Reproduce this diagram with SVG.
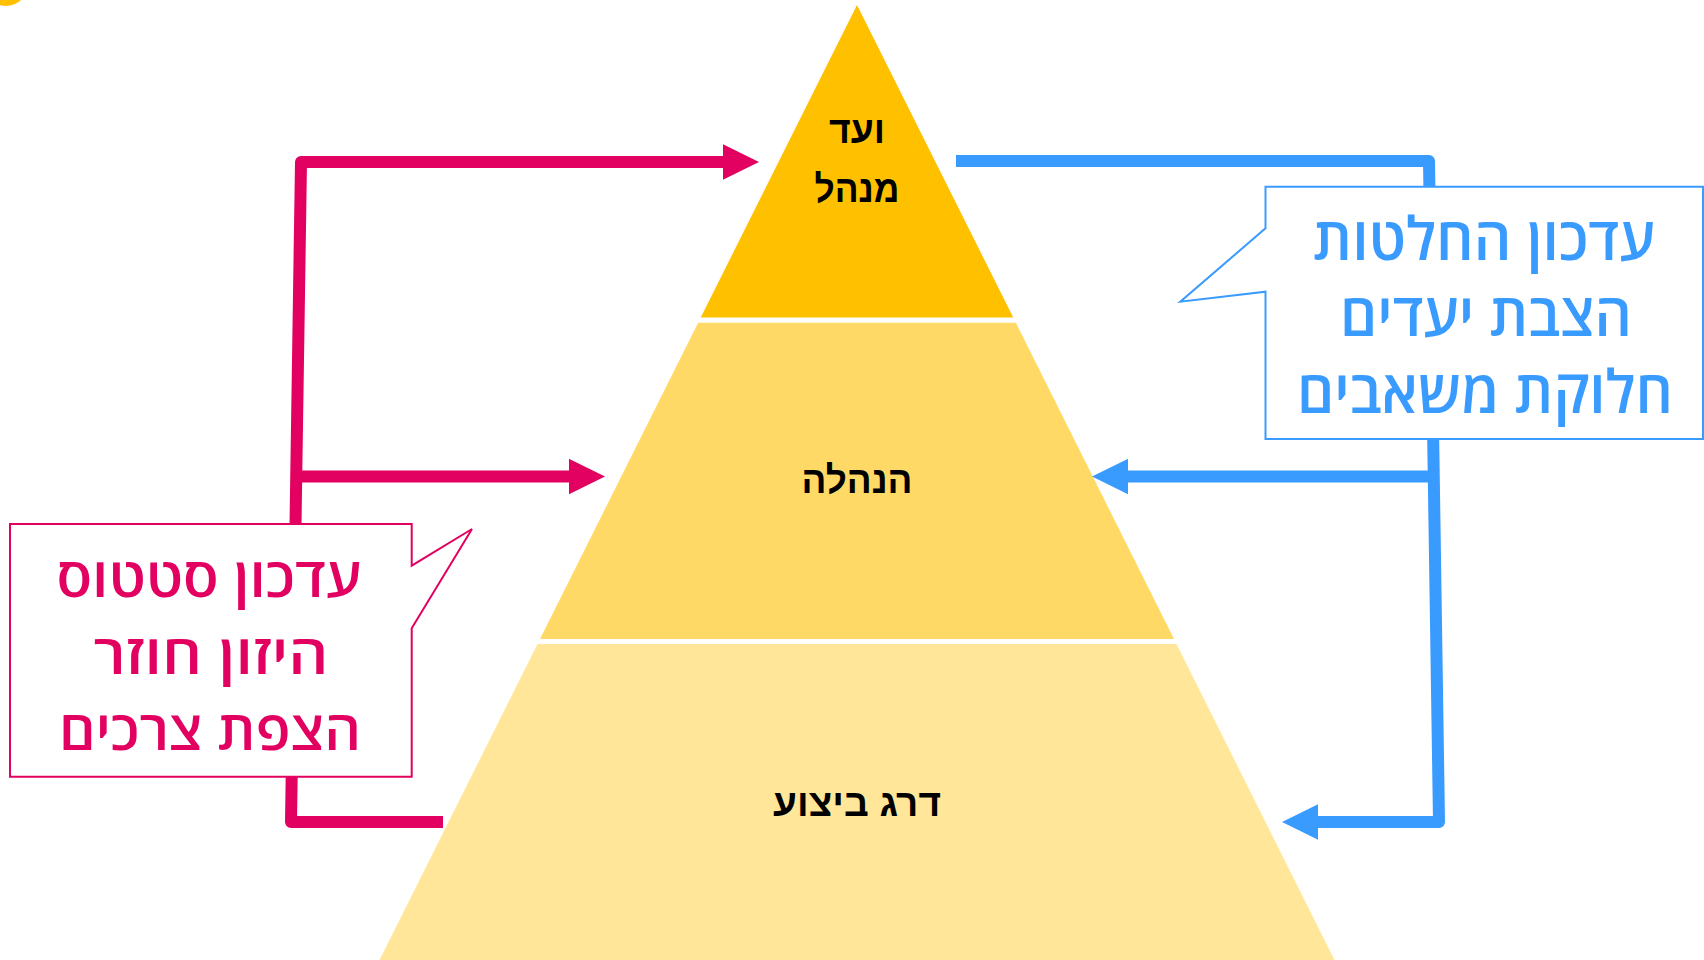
<svg xmlns="http://www.w3.org/2000/svg" width="1704" height="960" viewBox="0 0 1704 960">
  <style>
    .tier-label { font-family: "Liberation Sans", "DejaVu Sans", sans-serif; font-weight: bold; font-size: 38px; fill: #000; text-anchor: middle; }
    .note { font-family: "Open Sans", "DejaVu Sans", sans-serif; text-anchor: middle; font-weight: 600; }
    .note-pink { fill: #E20060; font-size: 55px; }
    .note-blue { fill: #3A9BFF; font-size: 60px; }
    .wire { fill: none; stroke-width: 12; stroke-linejoin: round; stroke-linecap: butt; }
    .wire-pink { stroke: #E20060; }
    .wire-blue { stroke: #3A9BFF; }
  </style>
  <defs>
    <marker id="head-pink" viewBox="0 0 36 36" refX="0" refY="18" markerWidth="36" markerHeight="36" markerUnits="userSpaceOnUse" orient="auto">
      <path d="M0,0.3 L36,18 L0,35.7 Z" fill="#E20060"/>
    </marker>
    <marker id="head-blue" viewBox="0 0 36 36" refX="0" refY="18" markerWidth="36" markerHeight="36" markerUnits="userSpaceOnUse" orient="auto">
      <path d="M0,0.3 L36,18 L0,35.7 Z" fill="#3A9BFF"/>
    </marker>
  </defs>

  <rect width="1704" height="960" fill="#FFFFFF"/>

  <!-- corner ornament -->
  <circle cx="6" cy="-16" r="22" fill="#FFC000"/>

  <!-- pyramid tiers -->
  <g id="tier-board">
    <polygon points="857,5 1013.25,317.5 700.75,317.5" fill="#FFC000"/>
    <text class="tier-label" x="857" y="142.7" textLength="56" lengthAdjust="spacingAndGlyphs">ועד</text>
    <text class="tier-label" x="857" y="201.7" textLength="85" lengthAdjust="spacingAndGlyphs">מנהל</text>
  </g>
  <g id="tier-management">
    <polygon points="698.15,322.7 1015.85,322.7 1174,639 540,639" fill="#FFD966"/>
    <text class="tier-label" x="857" y="493" textLength="111" lengthAdjust="spacingAndGlyphs">הנהלה</text>
  </g>
  <g id="tier-execution">
    <polygon points="537.5,644 1176.5,644 1337,965 377,965" fill="#FFE699"/>
    <text class="tier-label" x="857" y="816" textLength="168" lengthAdjust="spacingAndGlyphs">דרג ביצוע</text>
  </g>

  <!-- connectors -->
  <g id="connectors">
    <path class="wire wire-pink" d="M443,822 L291,822 L301,162 L723,162" marker-end="url(#head-pink)"/>
    <path class="wire wire-pink" d="M296,476.5 L569,476.5" marker-end="url(#head-pink)"/>
    <path class="wire wire-blue" d="M956,161 L1429,161 L1439,822 L1318,822" marker-end="url(#head-blue)"/>
    <path class="wire wire-blue" d="M1434,476.5 L1128,476.5" marker-end="url(#head-blue)"/>
  </g>

  <!-- callouts -->
  <g id="callout-feedback">
    <path d="M10,524 L411.7,524 L411.7,565.7 L472,529 L411.7,628.3 L411.7,776.7 L10,776.7 Z" fill="#FFFFFF" stroke="#E20060" stroke-width="2"/>
    <text class="note note-pink" x="209" y="597" textLength="305" lengthAdjust="spacingAndGlyphs">עדכון סטטוס</text>
    <text class="note note-pink" x="211" y="674" textLength="235" lengthAdjust="spacingAndGlyphs">היזון חוזר</text>
    <text class="note note-pink" x="210" y="750" textLength="302" lengthAdjust="spacingAndGlyphs">הצפת צרכים</text>
  </g>
  <g id="callout-directives">
    <path d="M1265.5,186.7 L1703,186.7 L1703,439 L1265.5,439 L1265.5,291.7 L1180.3,301.7 L1265.5,228.3 Z" fill="#FFFFFF" stroke="#3A9BFF" stroke-width="2"/>
    <text class="note note-blue" x="1484" y="259.5" textLength="342" lengthAdjust="spacingAndGlyphs">עדכון החלטות</text>
    <text class="note note-blue" x="1486" y="336" textLength="292" lengthAdjust="spacingAndGlyphs">הצבת יעדים</text>
    <text class="note note-blue" x="1485" y="412.7" textLength="376" lengthAdjust="spacingAndGlyphs">חלוקת משאבים</text>
  </g>
</svg>
